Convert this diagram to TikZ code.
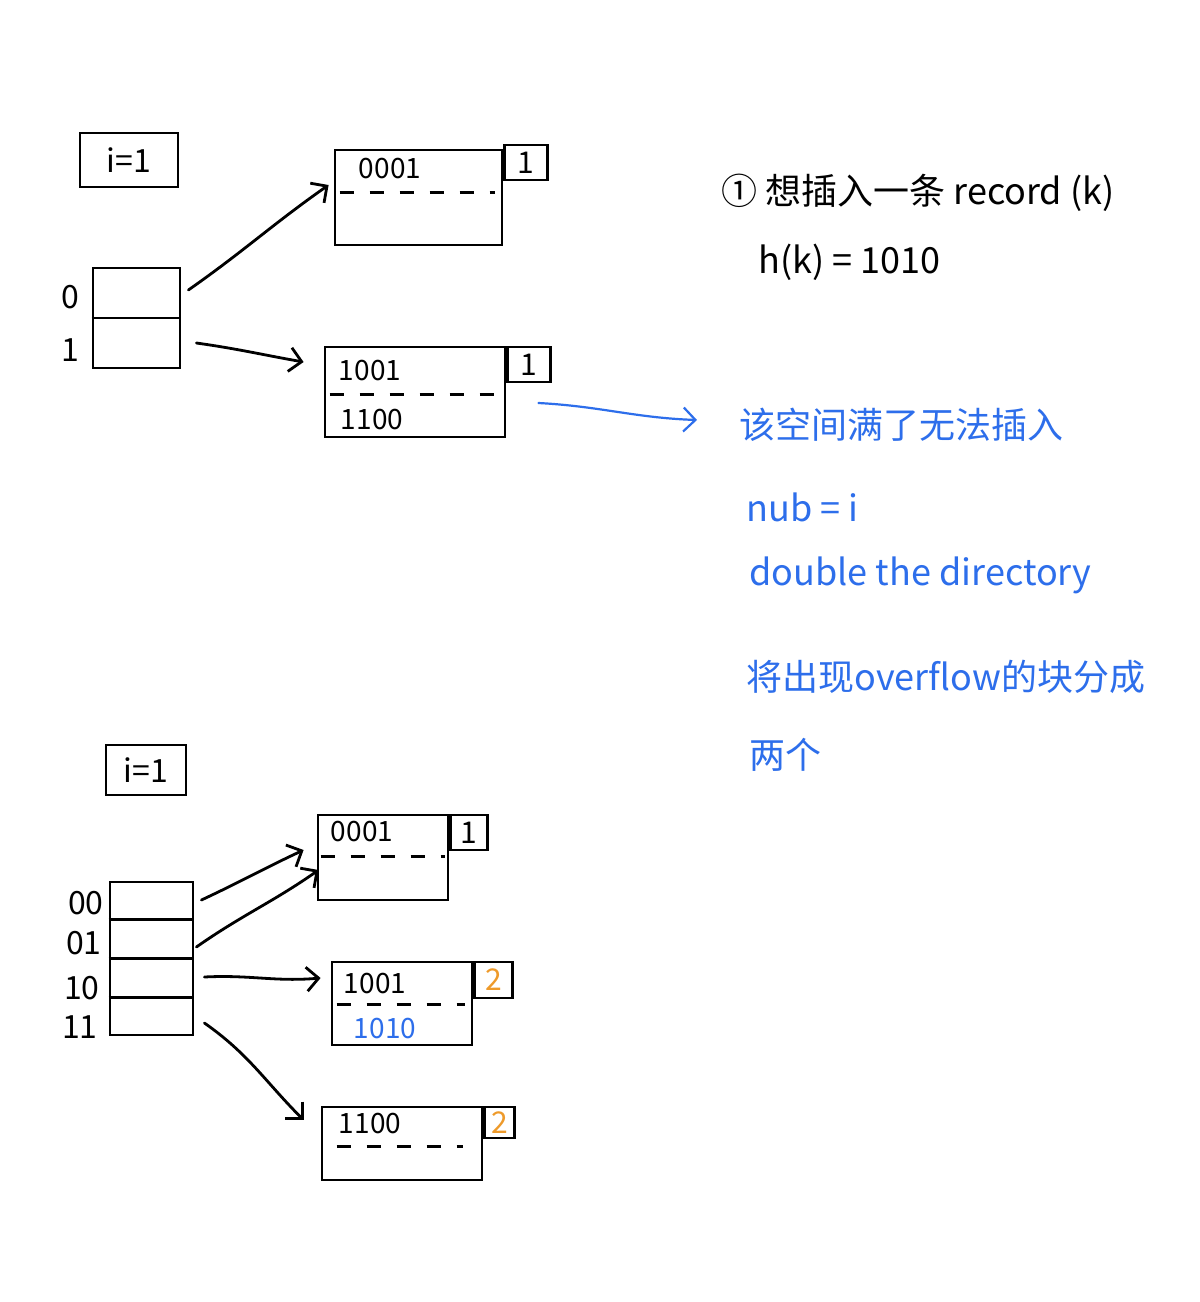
\documentclass[tikz,border=0pt]{standalone}
\usepackage{fontspec}
\setmainfont{Noto Sans CJK SC}
\usepackage{tikz}
\usepackage{xcolor}
\usetikzlibrary{arrows.meta, positioning, calc}
\definecolor{penblue}{HTML}{2D6EEB}
\definecolor{penorange}{HTML}{EE9A2A}

\begin{document}
\begin{tikzpicture}[x=0.5pt,y=-0.5pt,line width=1.4pt,
  hand/.style={font=\fontsize{14}{17}\selectfont,inner sep=0pt},
  note/.style={font=\fontsize{18}{22}\selectfont,inner sep=0pt,anchor=west},
  box/.style={draw,inner sep=0pt,font=\fontsize{16}{18}\selectfont},
  tag/.style={draw,inner sep=0pt,anchor=north west,font=\fontsize{15}{18}\selectfont},
  slot/.style={dash pattern=on 7pt off 8pt},
  ptr/.style={-{Straight Barb[length=6pt,width=12pt]},line cap=round}]
  \path[fill=white,use as bounding box] (0,0) rectangle (1200,1302);

  % first state: i = 1, two buckets
  \node[box,minimum width=49pt,minimum height=27pt] (ibox1) at (129,160) {i=1};
  \node[box,minimum width=43.5pt,minimum height=50pt] (dir1) at (136.5,318) {};
  \draw (dir1.west) -- (dir1.east);
  \node[hand,font=\fontsize{16}{18}\selectfont] (lab0) at (70,297) {0};
  \node[hand,font=\fontsize{16}{18}\selectfont] (lab1) at (70,350) {1};

  \node[box,minimum width=83.5pt,minimum height=47.5pt] (bA) at (418.5,197.5) {};
  \node[tag,minimum width=21.5pt,minimum height=17.5pt] (tA) at ([yshift=2.5pt]bA.north east) {1};
  \node[hand] (rA1) at (390,169) {0001};
  \draw[slot] ([xshift=3pt,yshift=-22pt]bA.north west) -- ([xshift=-4pt,yshift=-22pt]bA.north east);

  \node[box,minimum width=90pt,minimum height=45pt] (bB) at (415,392) {};
  \node[tag,minimum width=21.5pt,minimum height=17.5pt] (tB) at (bB.north east) {1};
  \node[hand] (rB1) at (370,371) {1001};
  \node[hand] (rB2) at (372,420) {1100};
  \draw[slot] ([xshift=3pt,yshift=-24.5pt]bB.north west) -- ([xshift=-4pt,yshift=-24.5pt]bB.north east);

  \draw[ptr] ([xshift=3.5pt,yshift=14pt]dir1.east) to[out=35,in=215] ([xshift=-2.5pt,yshift=6.25pt]bA.west);
  \draw[ptr] ([xshift=7.5pt,yshift=-12.5pt]dir1.east) to[out=-8,in=170] ([xshift=-10pt,yshift=15pt]bB.west);

  % notes on the right
  \node[note] (want) at (720,193) {① 想插入一条 record (k)};
  \node[note] (hash) at (757,262) {h(k) = 1010};
  \node[note,penblue] (full) at (738,425) {该空间满了无法插入};
  \node[note,penblue] (nub) at (745,507) {nub = i};
  \node[note,penblue] (dbl) at (748,575) {double the directory};
  \node[note,penblue] (split) at (745,677) {将出现overflow的块分成};
  \node[note,penblue] (two) at (748,755) {两个};
  \coordinate (fullin) at ([xshift=-20.5pt,yshift=2.5pt]full.west);
  \draw[ptr,penblue,line width=1.1pt] ([xshift=16pt,yshift=-5.5pt]bB.east) to[out=-3,in=178] (fullin);

  % second state: directory doubled, bucket split
  \node[box,minimum width=40pt,minimum height=25pt] (ibox2) at (146,770) {i=1};
  \node[box,minimum width=41.5pt,minimum height=76.5pt] (dir2) at (151.5,958.5) {};
  \foreach \f in {0.25,0.5,0.75}
    \draw ($(dir2.north west)!\f!(dir2.south west)$) -- ($(dir2.north east)!\f!(dir2.south east)$);
  \node[hand,anchor=east,font=\fontsize{16}{18}\selectfont] (lab00) at (105,903) {00};
  \node[hand,anchor=east,font=\fontsize{16}{18}\selectfont] (lab01) at (103,943) {01};
  \node[hand,anchor=east,font=\fontsize{16}{18}\selectfont] (lab10) at (101,988) {10};
  \node[hand,anchor=east,font=\fontsize{16}{18}\selectfont] (lab11) at (99,1027) {11};

  \node[box,minimum width=65pt,minimum height=42.5pt] (bC) at (383,857.5) {};
  \node[tag,minimum width=18.5pt,minimum height=17.5pt] (tC) at (bC.north east) {1};
  \node[hand] (rC1) at (362,832) {0001};
  \draw[slot] ([xshift=2pt,yshift=-21.5pt]bC.north west) -- ([xshift=-2pt,yshift=-21.5pt]bC.north east);

  \node[box,minimum width=70pt,minimum height=41.5pt] (bD) at (402,1003.5) {};
  \node[tag,minimum width=19pt,minimum height=18pt,text=penorange] (tD) at (bD.north east) {2};
  \node[hand] (rD1) at (375,984) {1001};
  \node[hand,text=penblue] (rD2) at (385,1029) {1010};
  \draw[slot] ([xshift=3pt,yshift=-22pt]bD.north west) -- ([xshift=-4pt,yshift=-22pt]bD.north east);

  \node[box,minimum width=80pt,minimum height=36.5pt] (bE) at (402,1143.5) {};
  \node[tag,minimum width=15pt,minimum height=15.5pt,text=penorange] (tE) at (bE.north east) {2};
  \node[hand] (rE1) at (370,1124) {1100};
  \draw[slot] ([xshift=8pt,yshift=-20.5pt]bE.north west) -- ([xshift=-10pt,yshift=-20.5pt]bE.north east);

  \draw[ptr] ([xshift=3.5pt,yshift=29.25pt]dir2.east) to[out=25,in=205] ([xshift=-6.5pt,yshift=3.75pt]bC.west);
  \draw[ptr] ([xshift=1pt,yshift=5.75pt]dir2.east) to[out=35,in=215] ([xshift=1pt,yshift=-6.25pt]bC.west);
  \draw[ptr] ([xshift=5pt,yshift=-9.25pt]dir2.east) to[out=3,in=185] ([xshift=-5pt,yshift=12.75pt]bD.west);
  \draw[ptr] ([xshift=5pt,yshift=-32.25pt]dir2.east) to[out=-35,in=135] ([xshift=-8.5pt,yshift=11.75pt]bE.west);
\end{tikzpicture}
\end{document}
